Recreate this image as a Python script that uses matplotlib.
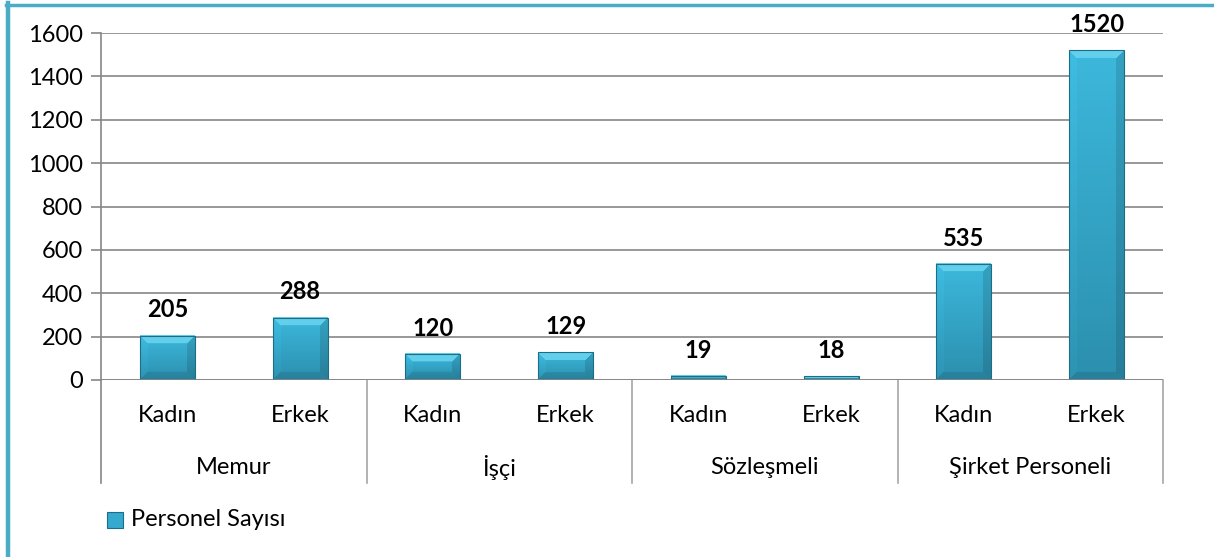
import numpy as np
import matplotlib
matplotlib.use("Agg")
import matplotlib.pyplot as plt
from matplotlib.colors import to_rgb
from matplotlib.transforms import blended_transform_factory
from matplotlib.patches import Rectangle
from matplotlib.lines import Line2D

# ---- data ----
groups = ["Memur", "İşçi", "Sözleşmeli", "Şirket Personeli"]
subcats = ["Kadın", "Erkek", "Kadın", "Erkek", "Kadın", "Erkek", "Kadın", "Erkek"]
values = [205, 288, 120, 129, 19, 18, 535, 1520]
yticks = [0, 200, 400, 600, 800, 1000, 1200, 1400, 1600]
series_name = "Personel Sayısı"

plt.rcParams['font.family'] = ['Lato', 'DejaVu Sans']
FS = 17

W, H, DPI = 1214, 557, 100
fig = plt.figure(figsize=(W / DPI, H / DPI), dpi=DPI)
fig.patch.set_facecolor("white")

x0, x1, ytop, ybot = 101, 1163, 33, 380
ax = fig.add_axes([x0 / W, 1 - ybot / H, (x1 - x0) / W, (ybot - ytop) / H])
n = len(values)
ax.set_xlim(-0.5, n - 0.5)
ax.set_ylim(0, 1600)
ax.set_yticks(yticks)
ax.set_yticklabels([str(t) for t in yticks], fontsize=FS)
ax.tick_params(axis='y', length=7, width=1.2, color='#868686', pad=6)
ax.set_xticks([])
for s in ["top", "right", "bottom"]:
    ax.spines[s].set_visible(False)
ax.spines["left"].set_color("#868686")
ax.spines["left"].set_linewidth(1.2)
ax.set_axisbelow(True)
ax.yaxis.grid(True, color="#868686", linewidth=1.2)
ax.axhline(0, color="#868686", linewidth=1.2, zorder=4)

# ---- bars with bevel-like gradient ----
bw = 0.414
xs = np.arange(n)
bars = ax.bar(xs, values, width=bw, color="none", edgecolor="#1f6d85",
              linewidth=0.8, zorder=3)

ax_w_px = x1 - x0
ax_h_px = ybot - ytop
c_top_bevel = np.array(to_rgb("#62d0ec"))
c_in_top = np.array(to_rgb("#3cb8dc"))
c_in_bot = np.array(to_rgb("#2c8fae"))

for xi, v in zip(xs, values):
    wpx = max(2, int(round(bw / n * ax_w_px)))
    hpx = max(2, int(round(v / 1600 * ax_h_px)))
    img = np.zeros((hpx, wpx, 3))
    bev = min(8, wpx // 2, max(1, hpx // 2))
    for i in range(hpx):
        t = i / max(1, hpx - 1)
        interior = c_in_top * (1 - t) + c_in_bot * t
        for j in range(wpx):
            dt, db, dl, dr = i, hpx - 1 - i, j, wpx - 1 - j
            m = min(dt, db, dl, dr)
            c = interior
            if m < bev:
                if m == dt:
                    c = c_top_bevel
                elif m == db:
                    c = interior * 0.9
                elif m == dl:
                    c = interior * 1.03
                else:
                    c = interior * 0.88
            img[i, j] = np.clip(c, 0, 1)
    ax.imshow(img, extent=(xi - bw / 2, xi + bw / 2, 0, v), aspect="auto",
              interpolation="bilinear", zorder=2.9)
    ax.annotate(str(v), (xi, v), xytext=(0, 13), textcoords="offset points",
                ha="center", va="baseline", fontsize=FS, fontweight="bold",
                color="black", zorder=5, annotation_clip=False)
ax.set_xlim(-0.5, n - 0.5)
ax.set_ylim(0, 1600)

# ---- multi-level category axis ----
trans = blended_transform_factory(ax.transData, ax.transAxes)
sub_y = -35 / ax_h_px
grp_y = -87 / ax_h_px
sep_bottom = -103 / ax_h_px
for xi, lab in zip(xs, subcats):
    ax.text(xi, sub_y, lab, transform=trans, ha="center", va="center",
            fontsize=FS, color="black")
for gi, g in enumerate(groups):
    ax.text(2 * gi + 0.5, grp_y, g, transform=trans, ha="center", va="center",
            fontsize=FS, color="black")
for sx in [-0.5, 1.5, 3.5, 5.5, 7.5]:
    ax.add_line(Line2D([sx, sx], [0, sep_bottom], transform=trans,
                       color="#a6a6a6" if sx != -0.5 else "#868686",
                       linewidth=1.2, clip_on=False))

# ---- legend ----
fig.patches.append(Rectangle((107 / W, 1 - 528 / H), 16 / W, 16 / H,
                             transform=fig.transFigure, facecolor="#34aacf",
                             edgecolor="#1f6d85", linewidth=0.8))
fig.text(131 / W, 1 - 520 / H, series_name, ha="left", va="center",
         fontsize=FS, color="black")

# ---- figure border (left and top) ----
fig.add_artist(Line2D([8 / W, 8 / W], [0, 1 - 3 / H], transform=fig.transFigure,
                      color="#4bacc6", linewidth=3.2))
fig.add_artist(Line2D([6 / W, 1], [1 - 4.5 / H, 1 - 4.5 / H],
                      transform=fig.transFigure, color="#4bacc6", linewidth=2.5))

fig.savefig("out.png", dpi=DPI)
